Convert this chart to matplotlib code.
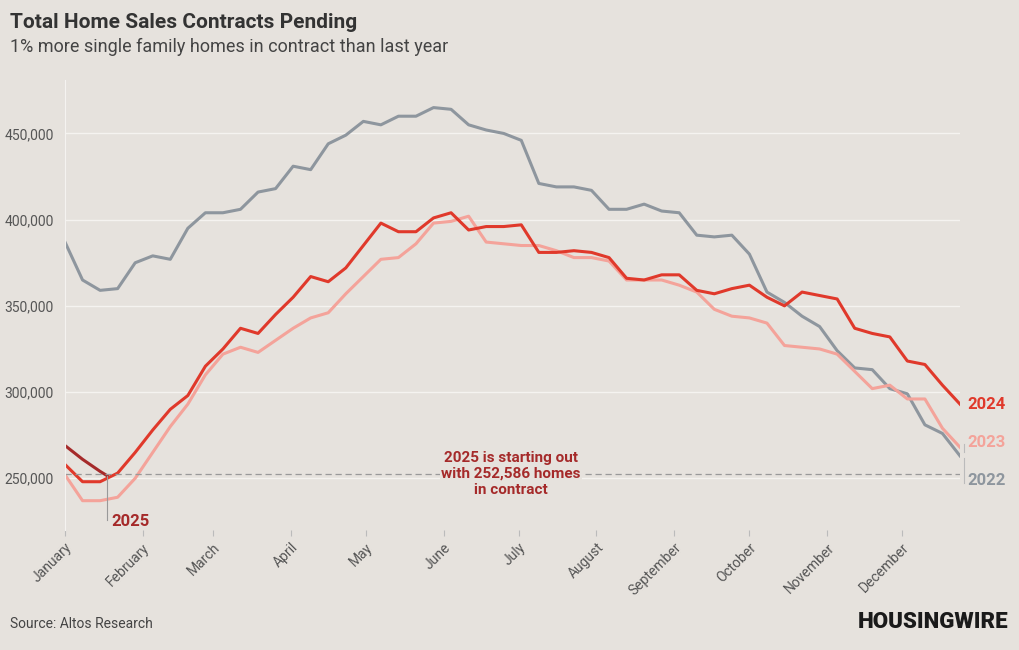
import matplotlib
matplotlib.use("Agg")
import matplotlib.pyplot as plt
import numpy as np

plt.rcParams['font.family'] = ['Roboto', 'DejaVu Sans']

weeks = list(range(52))
s2022 = [387,365,359,360,375,379,377,395,404,404,406,416,418,431,429,444,449,457,455,460,460,465,464,455,452,450,446,421,419,419,417,406,406,409,405,404,391,390,391,380,358,352,344,338,324,314,313,302,299,281,276,263]
s2024 = [258,248,248,253,265,278,290,298,315,325,337,334,345,355,367,364,372,385,398,393,393,401,404,406,394,396,396,397,381,381,382,381,378,366,365,368,368,359,357,360,362,355,350,358,356,354,337,334,332,318,316,304,293]
s2024 = s2024[:23] + s2024[24:]
s2023 = [252,237,237,239,250,265,280,293,310,322,326,323,330,337,343,346,357,367,377,378,386,398,399,402,387,386,385,385,382,378,378,376,365,365,365,362,358,348,344,343,340,327,326,325,322,312,302,304,296,296,279,276]
s2023 = s2023[:51] + [268]
w2025 = [0, 1, 2, 2.4]
s2025 = [269, 261, 254, 251.5]
current_2025 = 252586
months = ['January','February','March','April','May','June','July','August','September','October','November','December']
month_days = [0,31,59,90,120,151,181,212,243,273,304,334]

BG = '#e6e2dd'
GRAY = '#8e969e'; RED = '#e0392b'; PINK = '#f4a39a'; DARK = '#a52a2a'

fig = plt.figure(figsize=(10.2, 6.5), dpi=100, facecolor=BG)
ax = fig.add_axes([65/1020, 1-530/650, 895/1020, 450/650], facecolor=BG)
d = lambda w: np.array(w) * 7
ax.plot(d(weeks), np.array(s2022)*1000, color=GRAY, lw=2.2)
ax.plot(d(weeks), np.array(s2023)*1000, color=PINK, lw=2.2)
ax.plot(d(weeks), np.array(s2024)*1000, color=RED, lw=2.2)
ax.plot(d(w2025), np.array(s2025)*1000, color=DARK, lw=2.2)
ax.axhline(current_2025, color='#999999', lw=0.9, ls=(0, (5, 3)))

ax.set_xlim(0, 357)
ax.set_ylim(220000, 481000)
ax.set_yticks([250000, 300000, 350000, 400000, 450000])
ax.set_yticklabels([f'{v:,}' for v in [250000, 300000, 350000, 400000, 450000]], color='#555555', fontsize=10)
ax.set_xticks(month_days)
ax.set_xticklabels(months, rotation=45, ha='right', rotation_mode='anchor', color='#555555', fontsize=10)
ax.grid(axis='y', color='#f5f3f0', lw=1)
ax.set_axisbelow(True)
for s in ['top', 'right', 'bottom']:
    ax.spines[s].set_visible(False)
ax.spines['left'].set_color('#f5f3f0')
ax.tick_params(axis='y', length=0, pad=8)
ax.tick_params(axis='x', length=4, color='#bbbbbb')

# annotations
ax.plot([2.4*7, 2.4*7], [226000, 251500], color='#999999', lw=0.8)
ax.text(2.4*7+1.5, 225000, '2025', color=DARK, fontsize=12, fontweight='bold', va='center')
ax.text(178, 252586, '2025 is starting out\nwith 252,586 homes\nin contract', color=DARK, fontsize=11,
        fontweight='bold', ha='center', va='center', linespacing=1.2,
        bbox=dict(facecolor=BG, edgecolor='none', pad=1))
ax.text(360, 293000, '2024', color=RED, fontsize=12, fontweight='bold', va='center', clip_on=False)
ax.text(360, 271000, '2023', color=PINK, fontsize=12, fontweight='bold', va='center', clip_on=False)
ax.text(360, 248500, '2022', color=GRAY, fontsize=12, fontweight='bold', va='center', clip_on=False)
ax.plot([358.5, 358.5], [265000, 270000], color='#bbbbbb', lw=0.8, clip_on=False)
ax.plot([358.5, 358.5], [247000, 262000], color='#bbbbbb', lw=0.8, clip_on=False)

fig.text(10/1020, 1-22/650, 'Total Home Sales Contracts Pending', fontsize=15, fontweight='bold', color='#333333', va='center')
fig.text(10/1020, 1-47/650, '1% more single family homes in contract than last year', fontsize=13, color='#444444', va='center')
fig.text(10/1020, 1-624/650, 'Source: Altos Research', fontsize=10, color='#444444', va='center')
fig.text(1008/1020, 1-622/650, 'HOUSINGWIRE', fontsize=16, fontweight='black', color='#1a1a1a', ha='right', va='center')

fig.savefig('out.png', dpi=100, facecolor=BG)
